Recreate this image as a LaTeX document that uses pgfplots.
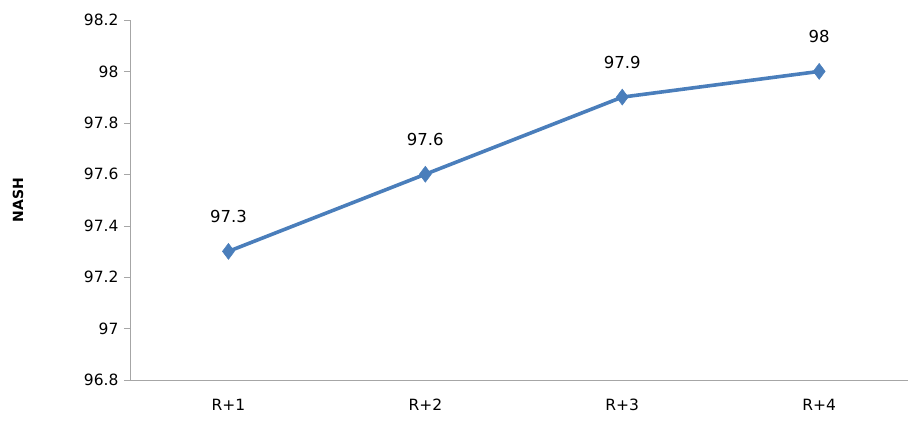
\documentclass[border=0pt]{standalone}
\usepackage{pgfplots}
\pgfplotsset{compat=1.18}
\usepackage{fontspec}
\setmainfont{DejaVu Sans}
\definecolor{ln}{HTML}{4A7EBB}
\begin{document}
\begin{tikzpicture}
\begin{axis}[scale only axis,
 width=778pt,height=360pt,
 xmin=0.5,xmax=4.45,ymin=96.8,ymax=98.2,
 ytick={96.8,97,...,98.21},
 yticklabel style={/pgf/number format/fixed,/pgf/number format/precision=1},
 /pgf/number format/assume math mode=true,
 xtick={1,2,3,4},xticklabels={R+1,R+2,R+3,R+4},
 extra x ticks={0.5,1.5,2.5,3.5},extra x tick labels={},
 extra x tick style={major tick length=6pt,tick style={gray}},
 axis x line*=bottom,axis y line*=left,
 axis line style={gray!70},
 x axis line style={-},y axis line style={-},
 major tick length=6pt,
 xtick style={draw=none},
 ytick style={gray!70},
 tick align=outside,
 tick label style={font=\fontsize{15.5}{15.5}\selectfont},
 yticklabel style={xshift=-2pt},
 xticklabel style={yshift=-10pt},
 clip=false,
 nodes near coords,
 nodes near coords style={font=\fontsize{16.5}{16.5}\selectfont,black,yshift=25pt},
 point meta=explicit symbolic]
\addplot[ln,line width=3.6pt,mark=diamond*,mark size=8pt,mark options={fill=ln,line width=0.5pt}]
 coordinates {(1,97.3)[97.3] (2,97.6)[97.6] (3,97.9)[97.9] (4,98)[98]};
\end{axis}
\node[rotate=90,font=\bfseries\fontsize{14}{14}\selectfont] at ([xshift=-112pt]current axis.west) {NASH};
\path ([xshift=-130pt,yshift=-47pt]current axis.south west) ([yshift=20pt]current axis.north east);
\end{tikzpicture}
\end{document}
